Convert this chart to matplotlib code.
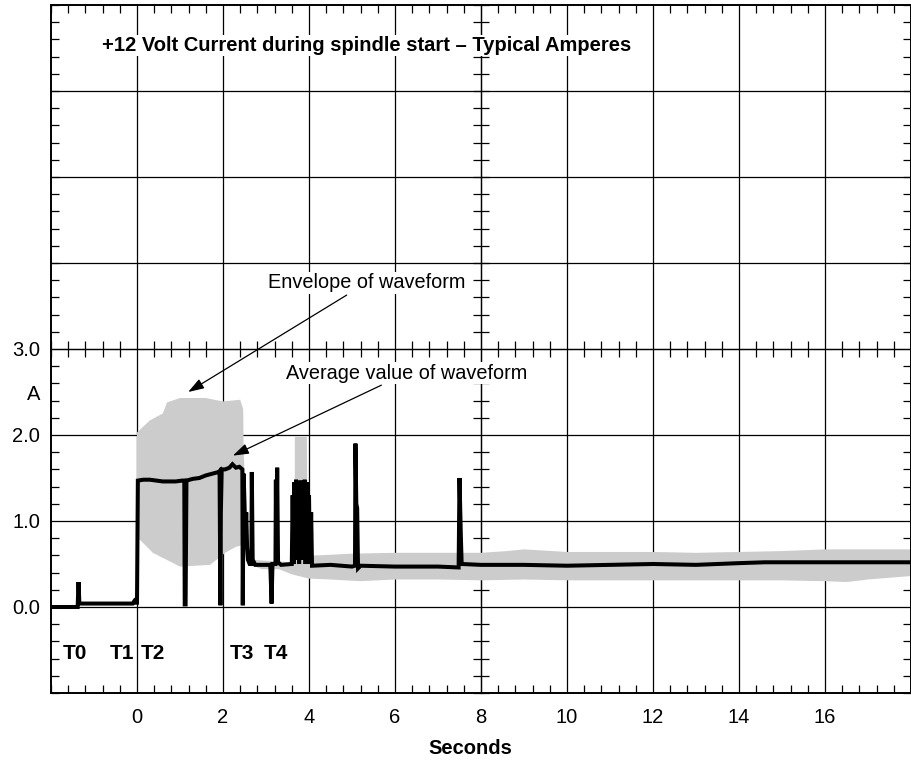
import matplotlib
matplotlib.use("Agg")
import matplotlib.pyplot as plt
from matplotlib.ticker import MultipleLocator, NullFormatter

plt.rcParams['font.family'] = ['Liberation Sans', 'DejaVu Sans']

# ---- data ----
avg_x = [-2.0, -1.38, -1.36, -1.34, -0.6, -0.1, -0.06, -0.03, 0.0, 0.02,
         0.15, 0.3, 0.45, 0.6, 0.75, 0.9, 1.05, 1.10, 1.11, 1.13, 1.15,
         1.3, 1.45, 1.6, 1.75, 1.90, 1.92, 1.94, 1.95, 1.97, 2.05, 2.15, 2.22,
         2.3, 2.38, 2.45, 2.46, 2.48, 2.50, 2.52, 2.54, 2.56, 2.58, 2.62,
         2.66, 2.67, 2.69, 2.75, 2.9, 3.1, 3.13, 3.15, 3.22, 3.23, 3.24,
         3.26, 3.28, 3.35, 3.6, 3.62, 3.64, 3.66, 3.68, 3.70, 3.72, 3.75,
         3.77, 3.80, 3.82, 3.85, 3.87, 3.90, 3.92, 3.95, 3.97, 4.00, 4.02,
         4.05, 4.07, 4.5, 5.0, 5.07, 5.08, 5.10, 5.12, 5.14, 5.2, 6.0, 7.0,
         7.48, 7.50, 7.53, 7.55, 8.0, 9.0, 10.0, 11.0, 12.0, 13.0, 14.0,
         14.6, 18.0]
avg_y = [0.0, 0.0, 0.29, 0.04, 0.04, 0.04, 0.07, 0.05, 0.05, 1.47,
         1.48, 1.48, 1.47, 1.46, 1.46, 1.46, 1.47, 1.47, 0.03, 0.03, 1.47,
         1.49, 1.50, 1.53, 1.55, 1.57, 1.58, 0.02, 1.10, 1.60, 1.60, 1.62, 1.66,
         1.62, 1.63, 1.60, 0.02, 1.55, 1.20, 0.75, 1.10, 0.70, 0.55, 0.50,
         0.50, 1.57, 0.55, 0.49, 0.49, 0.49, 0.04, 0.50, 0.50, 1.48, 0.60,
         1.62, 0.52, 0.49, 0.50, 1.30, 0.50, 1.45, 0.55, 1.48, 0.60, 1.45,
         0.50, 1.47, 0.55, 1.46, 0.60, 1.48, 0.50, 1.45, 0.55, 1.30, 0.50,
         1.10, 0.48, 0.49, 0.47, 0.48, 1.90, 1.20, 1.15, 0.45, 0.48, 0.47, 0.47,
         0.46, 1.50, 0.85, 0.50, 0.49, 0.49, 0.48, 0.49, 0.50, 0.49, 0.51,
         0.52, 0.52]

env_upper_x = [0.0, 0.3, 0.6, 0.7, 1.0, 1.6, 2.0, 2.4, 2.47, 2.48, 2.5,
               2.6, 3.6, 3.67, 3.67, 3.95, 3.97, 4.2, 5.0, 6.0, 7.0, 8.0,
               8.6, 9.0, 10.0, 11.0, 12.0, 13.0, 14.0, 15.0, 16.0, 17.0, 18.0]
env_upper_y = [2.03, 2.17, 2.25, 2.38, 2.43, 2.43, 2.39, 2.41, 2.30, 1.80, 1.60,
               0.55, 0.52, 0.52, 1.98, 1.98, 0.60, 0.60, 0.62, 0.63, 0.63, 0.63,
               0.65, 0.67, 0.64, 0.64, 0.64, 0.63, 0.64, 0.65, 0.67, 0.67, 0.67]
env_lower_x = [0.0, 0.07, 0.37, 1.0, 1.7, 2.05, 2.3, 2.47, 2.5, 2.6, 2.9,
               3.3, 3.6, 4.0, 4.5, 5.2, 6.0, 7.0, 8.0, 9.0, 10.0, 11.0, 12.0,
               13.0, 14.0, 15.0, 16.0, 16.5, 17.0, 18.0]
env_lower_y = [0.80, 0.78, 0.63, 0.47, 0.49, 0.63, 0.70, 0.72, 0.70, 0.50, 0.44,
               0.44, 0.38, 0.33, 0.32, 0.30, 0.32, 0.32, 0.31, 0.32, 0.31, 0.31,
               0.31, 0.31, 0.31, 0.31, 0.30, 0.29, 0.32, 0.36]

xtick_pos = [0, 2, 4, 6, 8, 10, 12, 14, 16]
xtick_labels = ['0', '2', '4', '6', '8', '10', '12', '14', '16']
ytick_pos = [0, 1, 2, 2.5, 3]
ytick_labels = ['0.0', '1.0', '2.0', 'A', '3.0']

marker_labels = ['T0', 'T1', 'T2', 'T3', 'T4']
marker_x = [-1.44, -0.35, 0.37, 2.44, 3.23]

title_text = '+12 Volt Current during spindle start \u2013 Typical Amperes'

# ---- figure ----
fig = plt.figure(figsize=(9.12, 7.61), dpi=100)
pos = [51 / 912, 68 / 761, 860 / 912, 688 / 761]
ax = fig.add_axes(pos)
ax.set_xlim(-2, 18)
ax.set_ylim(-1, 7)

for gx in range(0, 18, 2):
    ax.axvline(gx, color='black', lw=0.9, zorder=1)
for gy in range(0, 7):
    ax.axhline(gy, color='black', lw=0.9, zorder=1)

# envelope
poly_x = env_upper_x + env_lower_x[::-1]
poly_y = env_upper_y + env_lower_y[::-1]
ax.fill(poly_x, poly_y, color='#cccccc', lw=0, zorder=2)

# average
ax.plot(avg_x, avg_y, color='black', lw=2.9, zorder=3, solid_joinstyle='miter')

# ticks
ax.set_xticks(xtick_pos, xtick_labels)
ax.set_yticks(ytick_pos, ytick_labels)
ax.xaxis.set_minor_locator(MultipleLocator(0.4))
ax.yaxis.set_minor_locator(MultipleLocator(0.2))
ax.tick_params(which='major', length=0, labelsize=14.5)
ax.tick_params(axis='x', which='major', pad=11)
ax.tick_params(axis='y', which='major', pad=8)
ax.tick_params(which='minor', direction='in', length=5.5, width=0.9,
               top=True, right=True, bottom=True, left=True)
for s in ax.spines.values():
    s.set_linewidth(1.4)

# center cross axes with in/out ticks
axc = fig.add_axes(pos, sharex=ax, sharey=ax, facecolor='none')
axc.spines['right'].set_visible(False)
axc.spines['top'].set_visible(False)
axc.spines['left'].set_position(('data', 8))
axc.spines['bottom'].set_position(('data', 3))
axc.spines['left'].set_linewidth(0.9)
axc.spines['bottom'].set_linewidth(0.9)
axc.tick_params(which='major', length=0, labelbottom=False, labelleft=False)
axc.tick_params(which='minor', direction='inout', length=11, width=0.9)
axc.xaxis.set_minor_formatter(NullFormatter())
axc.yaxis.set_minor_formatter(NullFormatter())
axc.set_zorder(0.5)
ax.set_zorder(1)
ax.patch.set_visible(False)
axc.patch.set_visible(False)

# labels
for lab, mx in zip(marker_labels, marker_x):
    ax.text(mx, -0.54, lab, fontsize=15, fontweight='bold', ha='center',
            va='center', zorder=5)

ax.text(5.33, 6.53, title_text, fontsize=14.5, fontweight='bold', ha='center',
        va='center', zorder=5,
        bbox=dict(facecolor='white', edgecolor='none', pad=1))

ax.annotate('Envelope of waveform', xy=(1.19, 2.50), xytext=(3.05, 3.77),
            fontsize=14.3, ha='left', va='center', zorder=5,
            bbox=dict(facecolor='white', edgecolor='none', pad=1),
            arrowprops=dict(arrowstyle='-|>,head_length=0.6,head_width=0.2',
                            color='black', lw=0.9,
                            mutation_scale=16, shrinkA=2, shrinkB=0))
ax.annotate('Average value of waveform', xy=(2.23, 1.76), xytext=(3.47, 2.72),
            fontsize=14.3, ha='left', va='center', zorder=5,
            bbox=dict(facecolor='white', edgecolor='none', pad=1),
            arrowprops=dict(arrowstyle='-|>,head_length=0.6,head_width=0.2',
                            color='black', lw=0.9,
                            mutation_scale=16, shrinkA=2, shrinkB=0))

fig.text(470 / 912, 1 - 748 / 761, 'Seconds', fontsize=14.5, fontweight='bold',
         ha='center', va='center')

fig.savefig('out.png', dpi=100)
